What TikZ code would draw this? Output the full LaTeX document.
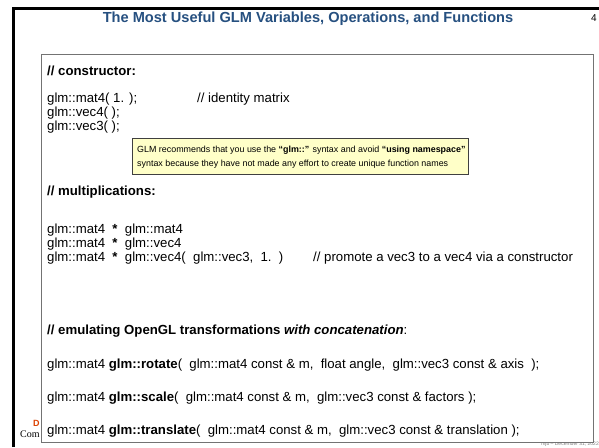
\documentclass[tikz,border=0pt]{standalone}
\usepackage{fontspec}
\setmainfont{Liberation Sans}
\newfontfamily\seriffont{Liberation Serif}
\definecolor{titleblue}{RGB}{38,80,128}
\definecolor{noteyellow}{RGB}{255,255,200}
\definecolor{osuorange}{RGB}{220,68,5}
\begin{document}
\begin{tikzpicture}[x=1pt,y=-1pt,
  txt/.style={anchor=base west, inner sep=0pt, font=\fontsize{13.2}{15}\selectfont},
  headtxt/.style={anchor=base west, inner sep=0pt, font=\fontsize{13.2}{15}\selectfont\bfseries},
  notetxt/.style={anchor=base west, inner sep=0pt, font=\fontsize{8.9}{11}\selectfont},
  mainbox/.style={draw=black!55, line width=0.8pt, fill=white},
  notebox/.style={draw=black!75, line width=0.6pt, fill=noteyellow},
  frameline/.style={line width=3pt, black}]
\useasboundingbox (0,0) rectangle (599,447);
\fill[white] (0,0) rectangle (599,447);
% slide frame
\coordinate (fbl) at (13.5,447);
\coordinate (ftl) at (13.5,8);
\coordinate (ftr) at (599,8);
\draw[frameline] (fbl) -- (ftl) -- (ftr);
% title and page number
\node[anchor=base, inner sep=0pt, text=titleblue, font=\fontsize{14.6}{17}\selectfont\bfseries] (title) at (308,22) {The Most Useful GLM Variables, Operations, and Functions};
\node[anchor=base east, inner sep=0pt, font=\fontsize{10}{12}\selectfont] (page) at (597,21) {4};
% footer fragments (the rest is hidden by the box)
\node[anchor=base west, inner sep=0pt, text=osuorange, font=\fontsize{9}{10}\selectfont\bfseries] (osu) at (33,426) {D};
\node[anchor=base west, inner sep=0pt, font=\fontsize{10}{12}\selectfont\seriffont] (cg) at (20,437) {Com};
\node[anchor=base east, inner sep=0pt, text=black!50, font=\fontsize{5}{6}\selectfont] (mjb) at (599,445) {mjb -- December 31, 2022};
% main box
\node[mainbox, anchor=north west, minimum width=552pt, minimum height=388pt, inner sep=0pt] (box) at (41,54) {};
% constructor
\node[headtxt] (h1) at (47,75) {// constructor:};
\node[txt] (c1) at (47,102.5) {glm::mat4( 1. );};
\node[txt] (c1c) at (197,102.5) {// identity matrix};
\node[txt] (c2) at (47,116.5) {glm::vec4( );};
\node[txt] (c3) at (47,130.5) {glm::vec3( );};
% note
\node[notebox, anchor=north west, minimum width=336pt, minimum height=36pt, inner sep=0pt] (note) at (132,138) {};
\node[notetxt] (n1) at (137,152) {GLM recommends that you use the \textbf{“glm::”} syntax and avoid \textbf{“using namespace”}};
\node[notetxt] (n2) at (137,166) {syntax because they have not made any effort to create unique function names};
% multiplications
\node[headtxt] (h2) at (47,195.5) {// multiplications:};
\node[txt] (m1) at (47,233.5) {glm::mat4\ \ \textbf{*}\ \ glm::mat4};
\node[txt] (m2) at (47,247.5) {glm::mat4\ \ \textbf{*}\ \ glm::vec4};
\node[txt] (m3) at (47,261.5) {glm::mat4\ \ \textbf{*}\ \ glm::vec4(\ \ glm::vec3,\ \ 1.\ \ )};
\node[txt] (m3c) at (313,261.5) {// promote a vec3 to a vec4 via a constructor};
% transformations
\node[headtxt] (h3) at (47,334.5) {// emulating OpenGL transformations \textit{with concatenation}\textmd{:}};
\node[txt] (t1) at (47,368.5) {glm::mat4 \textbf{glm::rotate}(\ \ glm::mat4 const \& m,\ \ float angle,\ \ glm::vec3 const \& axis\ \ );};
\node[txt] (t2) at (47,401.5) {glm::mat4 \textbf{glm::scale}(\ \ glm::mat4 const \& m,\ \ glm::vec3 const \& factors );};
\node[txt] (t3) at (47,434.5) {glm::mat4 \textbf{glm::translate}(\ \ glm::mat4 const \& m,\ \ glm::vec3 const \& translation );};
\end{tikzpicture}
\end{document}
